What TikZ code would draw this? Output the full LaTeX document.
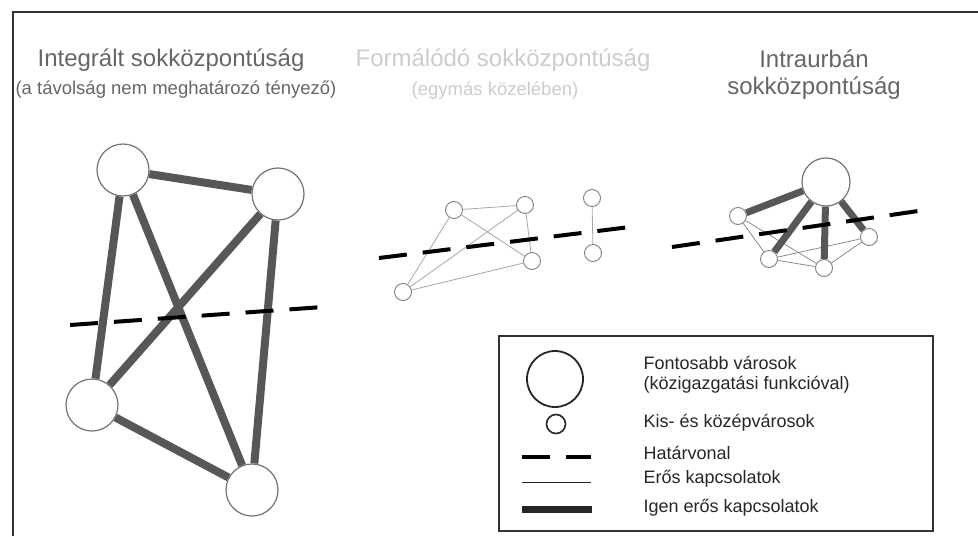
\documentclass[tikz,border=0pt]{standalone}
\usepackage{fontspec}
\setmainfont{Liberation Sans}
\begin{document}
\begin{tikzpicture}[x=1pt, y=-1pt,
        bigtown/.style={circle, draw=black!55, line width=1.2pt, fill=white, minimum size=52pt, inner sep=0pt},
        smalltown/.style={circle, draw=black!50, line width=0.9pt, fill=white, minimum size=17pt, inner sep=0pt},
        strong/.style={draw=black!45, line width=0.8pt},
        verystrong/.style={draw=black!66, line width=8pt},
        border/.style={black, line width=4pt, dash pattern=on 28pt off 16pt},
        title/.style={black!60, font=\fontsize{24}{27}\selectfont, align=center},
        subtitle/.style={black!60, font=\fontsize{18.5}{22}\selectfont},
        legtext/.style={black!85, anchor=west, font=\fontsize{18}{20}\selectfont, align=left}]
        \useasboundingbox (0,0) rectangle (978,536);
        \draw[black!80, line width=2.5pt] (13,536) -- (13,12) -- (978,12);
        % titles
        \node[title] (t1) at (171,60) {Integrált sokközpontúság};
        \node[subtitle] (s1) at (176,90) {(a távolság nem meghatározó tényező)};
        \node[title, black!20] (t2) at (503,60) {Formálódó sokközpontúság};
        \node[subtitle, black!20] (s2) at (495,91) {(egymás közelében)};
        \node[title] (t3) at (814,75) {Intraurbán\\sokközpontúság};
        % integrated
        \node[bigtown] (ia) at (123,170) {};
        \node[bigtown] (ib) at (278,194) {};
        \node[bigtown] (ic) at (92,405) {};
        \node[bigtown] (id) at (252,490) {};
        \foreach \a/\b in {ia/ib, ia/ic, ia/id, ib/ic, ib/id, ic/id}
            \draw[verystrong] (\a) -- (\b);
        \coordinate (ib1) at (70,325);
        \coordinate (ib2) at (323,307);
        \draw[border] (ib1) -- (ib2);
        % forming
        \node[smalltown] (fa) at (454,210) {};
        \node[smalltown] (fb) at (525,205) {};
        \node[smalltown] (fc) at (532,261) {};
        \node[smalltown] (fd) at (403,292) {};
        \node[smalltown] (fe) at (592,198) {};
        \node[smalltown] (ff) at (593,253) {};
        \foreach \a/\b in {fa/fb, fa/fc, fa/fd, fd/fb, fd/fc, fb/fc, fe/ff}
            \draw[strong, black!35] (\a) -- (\b);
        \coordinate (fb1) at (379,258);
        \coordinate (fb2) at (630,227);
        \draw[border] (fb1) -- (fb2);
        % intraurban
        \node[bigtown, minimum size=48pt] (uc) at (826,182) {};
        \node[smalltown] (ua) at (738,216) {};
        \node[smalltown] (ub) at (769,259) {};
        \node[smalltown] (ud) at (824,268) {};
        \node[smalltown] (ue) at (869,237) {};
        \foreach \a/\b in {ua/ub, ua/ud, ub/ud, ub/ue, ud/ue}
            \draw[strong] (\a) -- (\b);
        \foreach \b in {ua, ub, ud, ue}
            \draw[verystrong, line width=7pt] (uc) -- (\b);
        \coordinate (ub1) at (672,247);
        \coordinate (ub2) at (925,210);
        \draw[border] (ub1) -- (ub2);
        % legend
        \draw[black!80, line width=1.5pt] (499,336) rectangle (933,531);
        \node[bigtown, draw=black!85, line width=1.8pt, minimum size=56pt] (lbig) at (555,379) {};
        \node[smalltown, draw=black!85, line width=1.6pt, minimum size=19pt] (lsmall) at (556,424) {};
        \coordinate (lb1) at (522,457);
        \coordinate (lb2) at (591,457);
        \draw[border] (lb1) -- (lb2);
        \coordinate (ls1) at (522,482);
        \coordinate (ls2) at (591,482);
        \draw[strong, black!85, line width=1pt] (ls1) -- (ls2);
        \coordinate (lv1) at (522,509);
        \coordinate (lv2) at (592,509);
        \draw[verystrong, black!85, line width=7pt] (lv1) -- (lv2);
        \node[legtext] (l1) at (640,375) {Fontosabb városok\\(közigazgatási funkcióval)};
        \node[legtext] (l2) at (640,423) {Kis- és középvárosok};
        \node[legtext] (l3) at (640,453) {Határvonal};
        \node[legtext] (l4) at (640,479) {Erős kapcsolatok};
        \node[legtext] (l5) at (640,508) {Igen erős kapcsolatok};
    \end{tikzpicture}
\end{document}
